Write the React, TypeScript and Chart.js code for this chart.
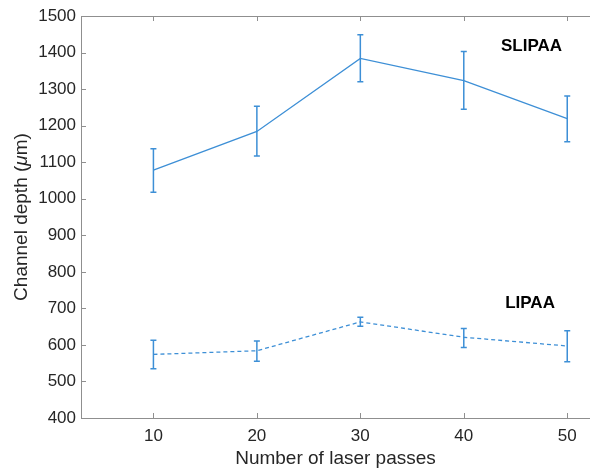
import React, { useEffect, useRef } from "react";
import { Chart, registerables } from "chart.js";

Chart.register(...registerables);

const passes = [10, 20, 30, 40, 50];
const slipaaMean = [1078, 1184, 1384, 1323, 1219];
const slipaaUpper = [1137, 1253, 1449, 1403, 1281];
const slipaaLower = [1018, 1117, 1320, 1245, 1156];
const lipaaMean = [574, 584, 663, 621, 597];
const lipaaUpper = [613, 611, 676, 645, 639];
const lipaaLower = [535, 555, 651, 593, 554];

const xMin = 3;
const xMax = 52.2;
const yTicks = [400, 500, 600, 700, 800, 900, 1000, 1100, 1200, 1300, 1400, 1500];
const seriesLabels = ["SLIPAA", "LIPAA"];
const seriesLabelX = [43.6, 44.0];
const seriesLabelY = [1417, 715];
const yTitleParts = [
  { text: "Channel depth (", italic: false },
  { text: "μ", italic: true },
  { text: "m)", italic: false },
];

const BLUE = "#3d8fd6";
const AXIS = "#8f8f8f";
const TEXT = "#262626";
const FONT = "'Liberation Sans', Arial, Helvetica, sans-serif";

const errorBarPlugin = {
  id: "errorBars",
  afterDatasetsDraw(chart: any) {
    const { ctx, scales } = chart;
    const xs = scales.x;
    const ys = scales.y;
    const sets = [
      [slipaaUpper, slipaaLower],
      [lipaaUpper, lipaaLower],
    ];
    ctx.save();
    ctx.strokeStyle = BLUE;
    ctx.lineWidth = 1.5;
    sets.forEach(([up, lo]) => {
      passes.forEach((p, i) => {
        const x = xs.getPixelForValue(p);
        const yu = ys.getPixelForValue(up[i]);
        const yl = ys.getPixelForValue(lo[i]);
        ctx.beginPath();
        ctx.moveTo(x, yu);
        ctx.lineTo(x, yl);
        ctx.moveTo(x - 3, yu);
        ctx.lineTo(x + 3, yu);
        ctx.moveTo(x - 3, yl);
        ctx.lineTo(x + 3, yl);
        ctx.stroke();
      });
    });
    ctx.fillStyle = "#000";
    ctx.font = `bold 17px ${FONT}`;
    ctx.textAlign = "left";
    ctx.textBaseline = "middle";
    seriesLabels.forEach((t, i) => {
      ctx.fillText(t, xs.getPixelForValue(seriesLabelX[i]), ys.getPixelForValue(seriesLabelY[i]));
    });
    ctx.restore();
  },
};

const yTitlePlugin = {
  id: "yTitle",
  afterDraw(chart: any) {
    const { ctx, chartArea } = chart;
    const normal = `19px ${FONT}`;
    const italic = `italic 19px ${FONT}`;
    ctx.save();
    let total = 0;
    const widths = yTitleParts.map((p) => {
      ctx.font = p.italic ? italic : normal;
      const w = ctx.measureText(p.text).width;
      total += w;
      return w;
    });
    const cy = (chartArea.top + chartArea.bottom) / 2;
    ctx.translate(22, cy);
    ctx.rotate(-Math.PI / 2);
    ctx.fillStyle = TEXT;
    ctx.textBaseline = "middle";
    ctx.textAlign = "left";
    let x = -total / 2;
    yTitleParts.forEach((p, i) => {
      ctx.font = p.italic ? italic : normal;
      ctx.fillText(p.text, x, 0);
      x += widths[i];
    });
    ctx.restore();
  },
};

const boxPlugin = {
  id: "boxTicks",
  beforeDatasetsDraw(chart: any) {
    const { ctx, chartArea, scales } = chart;
    const { left, right, top, bottom } = chartArea;
    ctx.save();
    ctx.strokeStyle = AXIS;
    ctx.lineWidth = 1;
    ctx.beginPath();
    ctx.moveTo(right + 1, top + 0.5);
    ctx.lineTo(left + 0.5, top + 0.5);
    ctx.lineTo(left + 0.5, bottom + 0.5);
    ctx.lineTo(right + 1, bottom + 0.5);
    ctx.stroke();
    ctx.beginPath();
    passes.forEach((p) => {
      const x = Math.round(scales.x.getPixelForValue(p)) + 0.5;
      ctx.moveTo(x, bottom);
      ctx.lineTo(x, bottom - 5);
      ctx.moveTo(x, top);
      ctx.lineTo(x, top + 5);
    });
    yTicks.forEach((v) => {
      const y = Math.round(scales.y.getPixelForValue(v)) + 0.5;
      ctx.moveTo(left, y);
      ctx.lineTo(left + 5, y);
    });
    ctx.stroke();
    ctx.restore();
  },
};

export default function App() {
  const ref = useRef<HTMLCanvasElement | null>(null);
  useEffect(() => {
    if (!ref.current) return;
    const chart = new Chart(ref.current, {
      type: "line",
      data: {
        datasets: [
          {
            label: "SLIPAA",
            data: passes.map((p, i) => ({ x: p, y: slipaaMean[i] })),
            borderColor: BLUE,
            borderWidth: 1.3,
            pointRadius: 0,
            fill: false,
            tension: 0,
          },
          {
            label: "LIPAA",
            data: passes.map((p, i) => ({ x: p, y: lipaaMean[i] })),
            borderColor: BLUE,
            borderWidth: 1.3,
            borderDash: [4, 3],
            pointRadius: 0,
            fill: false,
            tension: 0,
          },
        ],
      },
      options: {
        responsive: false,
        animation: false,
        layout: { padding: { top: 16, right: 0, left: 0, bottom: 0 } },
        plugins: { legend: { display: false }, tooltip: { enabled: false } },
        scales: {
          x: {
            type: "linear",
            min: xMin,
            max: xMax,
            afterBuildTicks: (s: any) => {
              s.ticks = passes.map((v) => ({ value: v }));
            },
            afterFit: (s: any) => {
              s.height = 50;
            },
            grid: { display: false, drawTicks: false },
            border: { display: false },
            ticks: { color: TEXT, font: { family: FONT, size: 17 }, padding: 8, maxRotation: 0, callback: (v: any) => String(v) },
            title: {
              display: true,
              text: "Number of laser passes",
              color: TEXT,
              font: { family: FONT, size: 19 },
              padding: { top: 0, bottom: -2 },
            },
          },
          y: {
            type: "linear",
            min: 400,
            max: 1500,
            afterBuildTicks: (s: any) => {
              s.ticks = yTicks.map((v) => ({ value: v }));
            },
            afterFit: (s: any) => {
              s.width = 81;
            },
            grid: { display: false, drawTicks: false },
            border: { display: false },
            ticks: { color: TEXT, font: { family: FONT, size: 17 }, padding: 5, callback: (v: any) => String(v) },
            title: { display: false },
          },
        },
      },
      plugins: [boxPlugin, errorBarPlugin, yTitlePlugin],
    });
    return () => chart.destroy();
  }, []);
  return (
    <div style={{ position: "fixed", left: 0, top: 0, width: 590, height: 468, overflow: "hidden", background: "#fff" }}>
      <canvas ref={ref} width={590} height={468} style={{ display: "block" }} />
    </div>
  );
}
